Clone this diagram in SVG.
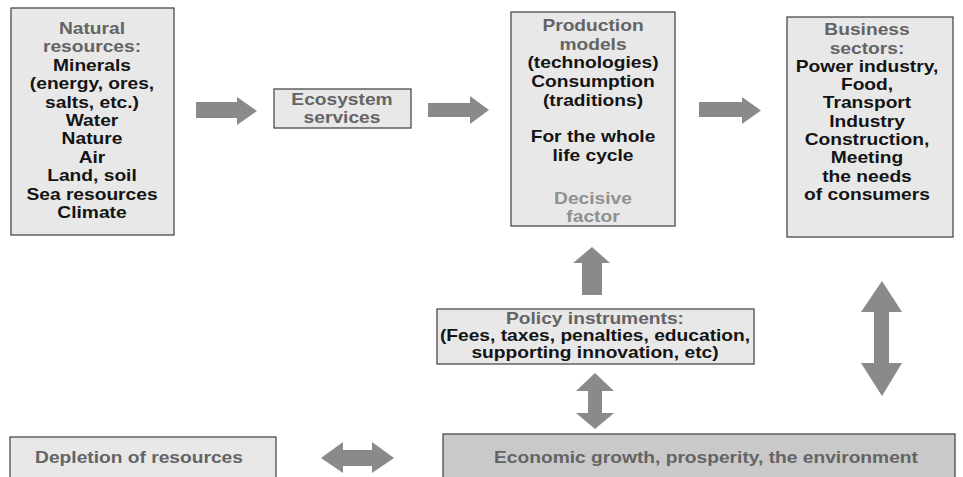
<svg xmlns="http://www.w3.org/2000/svg" width="963" height="477" viewBox="0 0 963 477">
<style>
.box{fill:#e8e8e8;stroke:#4a4a4a;stroke-width:1.3}
.eco{fill:#c9c9c9;stroke:#4a4a4a;stroke-width:1.3}
.arrow{fill:#8a8a8a}
text{font-family:"Liberation Sans",Arial,sans-serif;font-weight:bold;font-size:16px;text-anchor:middle}
.ti{fill:#646464}
.bd{fill:#141414}
.lt{fill:#909090}
</style>
<rect width="963" height="477" fill="#ffffff"/>
<g id="natural-resources">
<rect class="box" x="11" y="8" width="163" height="227"/>
<g transform="translate(92 0) scale(1.2 1)">
<text class="ti" x="0" y="34">Natural</text>
<text class="ti" x="0" y="52.4">resources:</text>
<text class="bd" x="0" y="70.8">Minerals</text>
<text class="bd" x="0" y="89.2">(energy, ores,</text>
<text class="bd" x="0" y="107.6">salts, etc.)</text>
<text class="bd" x="0" y="126">Water</text>
<text class="bd" x="0" y="144.4">Nature</text>
<text class="bd" x="0" y="162.8">Air</text>
<text class="bd" x="0" y="181.2">Land, soil</text>
<text class="bd" x="0" y="199.6">Sea resources</text>
<text class="bd" x="0" y="218">Climate</text>
</g>
</g>
<g id="ecosystem-services">
<rect class="box" x="274" y="89" width="137" height="39"/>
<g transform="translate(342 0) scale(1.2 1)">
<text class="ti" x="0" y="105">Ecosystem</text>
<text class="ti" x="0" y="123">services</text>
</g>
</g>
<g id="production-models">
<rect class="box" x="511" y="12" width="164" height="214"/>
<g transform="translate(593 0) scale(1.2 1)">
<text class="ti" x="0" y="31">Production</text>
<text class="ti" x="0" y="50">models</text>
<text class="bd" x="0" y="68">(technologies)</text>
<text class="bd" x="0" y="87">Consumption</text>
<text class="bd" x="0" y="106">(traditions)</text>
<text class="bd" x="0" y="142">For the whole</text>
<text class="bd" x="0" y="161">life cycle</text>
<text class="lt" x="0" y="204">Decisive</text>
<text class="lt" x="0" y="222">factor</text>
</g>
</g>
<g id="business-sectors">
<rect class="box" x="787" y="17" width="166" height="220"/>
<g transform="translate(867 0) scale(1.2 1)">
<text class="ti" x="0" y="35">Business</text>
<text class="ti" x="0" y="54">sectors:</text>
<text class="bd" x="0" y="72">Power industry,</text>
<text class="bd" x="0" y="90">Food,</text>
<text class="bd" x="0" y="108">Transport</text>
<text class="bd" x="0" y="127">Industry</text>
<text class="bd" x="0" y="145">Construction,</text>
<text class="bd" x="0" y="163">Meeting</text>
<text class="bd" x="0" y="182">the needs</text>
<text class="bd" x="0" y="200">of consumers</text>
</g>
</g>
<g id="policy-instruments">
<rect class="box" x="437" y="309" width="317" height="55"/>
<g transform="translate(595 0) scale(1.2 1)">
<text class="ti" x="0" y="324">Policy instruments:</text>
<text class="bd" x="0" y="341">(Fees, taxes, penalties, education,</text>
<text class="bd" x="0" y="358">supporting innovation, etc)</text>
</g>
</g>
<g id="depletion-of-resources">
<rect class="box" x="10" y="437" width="266" height="50"/>
<g transform="translate(139 0) scale(1.2 1)">
<text class="ti" x="0" y="463">Depletion of resources</text>
</g>
</g>
<g id="economic-growth">
<rect class="eco" x="443" y="434" width="512" height="53"/>
<g transform="translate(706 0) scale(1.2 1)">
<text class="ti" x="0" y="463">Economic growth, prosperity, the environment</text>
</g>
</g>
<g id="connectors">
<polygon class="arrow" points="196,102 237,102 237,97 257,111 237,125 237,118 196,118"/>
<polygon class="arrow" points="428,103 470,103 470,96 489,110 470,124 470,117 428,117"/>
<polygon class="arrow" points="699,102 742,102 742,97 761,110.5 742,124 742,117 699,117"/>
<polygon class="arrow" points="582,295 582,263 573,263 592,247 610,263 602,263 602,295"/>
<polygon class="arrow" points="874,312 861,312 882,281 902,312 889,312 889,363 902,363 882,396 861,363 874,363"/>
<polygon class="arrow" points="588,391 576,391 595,373 614,391 602,391 602,413 614,413 595,429 576,413 588,413"/>
<polygon class="arrow" points="321,458 343,442 343,450 372,450 372,442 394,458 372,473 372,466 343,466 343,473"/>
</g>
</svg>
